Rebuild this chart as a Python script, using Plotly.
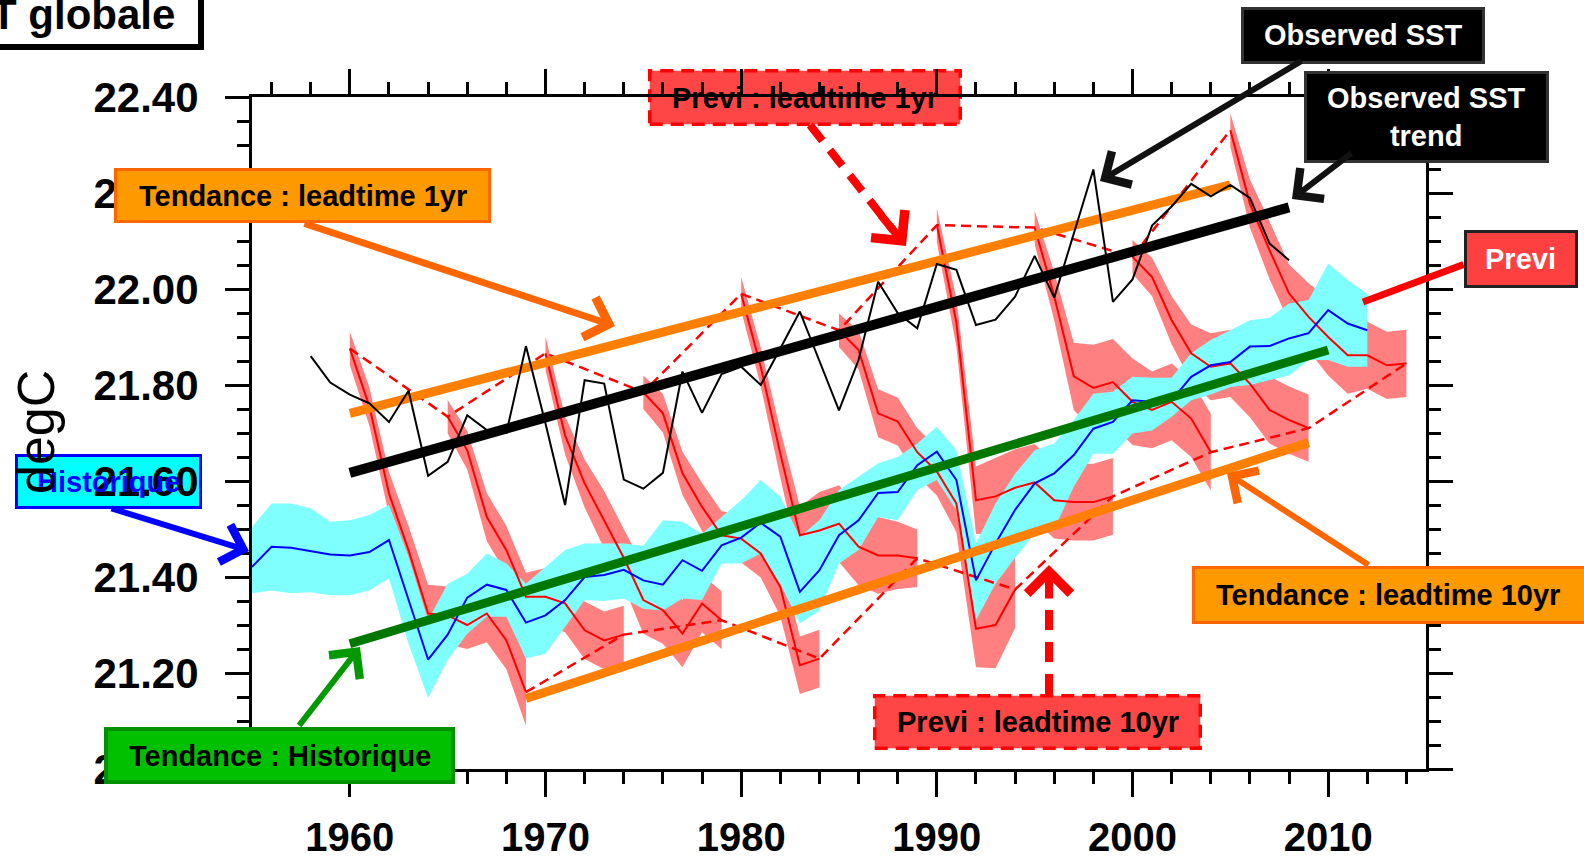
import plotly.graph_objects as go

# ---------------- data ----------------
hist_years = list(range(1955, 2013))
hist_mean = [21.421, 21.463, 21.461, 21.454, 21.447, 21.445, 21.452, 21.477, 21.352, 21.228,
             21.28, 21.357, 21.384, 21.373, 21.305, 21.32, 21.352, 21.40, 21.404, 21.415,
             21.393, 21.384, 21.435, 21.413, 21.466, 21.482, 21.513, 21.484, 21.369, 21.414,
             21.487, 21.518, 21.575, 21.577, 21.633, 21.661, 21.602, 21.393, 21.47, 21.54,
             21.595, 21.616, 21.654, 21.709, 21.723, 21.768, 21.765, 21.768, 21.817, 21.841,
             21.848, 21.88, 21.881, 21.897, 21.908, 21.956, 21.928, 21.914]
hist_hi = [21.504, 21.553, 21.553, 21.543, 21.515, 21.518, 21.529, 21.55, 21.442, 21.31,
           21.386, 21.407, 21.449, 21.428, 21.386, 21.421, 21.456, 21.47, 21.47, 21.47,
           21.465, 21.518, 21.515, 21.49, 21.525, 21.56, 21.602, 21.567, 21.484, 21.518,
           21.581, 21.609, 21.637, 21.65, 21.678, 21.713, 21.664, 21.47, 21.553, 21.615,
           21.664, 21.678, 21.727, 21.782, 21.786, 21.817, 21.815, 21.815, 21.866, 21.894,
           21.914, 21.935, 21.94, 21.97, 21.977, 22.053, 22.019, 21.99]
hist_lo = [21.366, 21.372, 21.366, 21.368, 21.362, 21.362, 21.372, 21.397, 21.261, 21.148,
           21.227, 21.282, 21.317, 21.317, 21.23, 21.24, 21.296, 21.352, 21.35, 21.355,
           21.334, 21.33, 21.355, 21.352, 21.428, 21.428, 21.449, 21.386, 21.303, 21.33,
           21.428, 21.456, 21.525, 21.518, 21.581, 21.602, 21.539, 21.31, 21.386, 21.44,
           21.49, 21.5, 21.588, 21.657, 21.657, 21.699, 21.705, 21.734, 21.768, 21.78,
           21.796, 21.8, 21.81, 21.82, 21.852, 21.852, 21.838, 21.838]

obs_years = list(range(1958, 2009))
obs_sst = [21.86, 21.805, 21.78, 21.762, 21.723, 21.788, 21.611, 21.64, 21.737, 21.706,
           21.70, 21.881, 21.72, 21.55, 21.81, 21.803, 21.603, 21.584, 21.617, 21.828,
           21.742, 21.823, 21.838, 21.80, 21.876, 21.953, 21.85, 21.747, 21.852, 22.015,
           21.95, 21.918, 22.052, 22.04, 21.925, 21.936, 21.984, 22.069, 21.982, 22.115,
           22.249, 21.973, 22.02, 22.132, 22.172, 22.219, 22.193, 22.217, 22.19, 22.095,
           22.06]

previ_starts = [1960, 1965, 1970, 1975, 1980, 1985, 1990, 1995, 2000, 2005]
previ_1960 = [21.876, 21.755, 21.574, 21.456, 21.324, 21.32, 21.30, 21.324, 21.268, 21.16]
previ_1965 = [21.734, 21.664, 21.525, 21.456, 21.359, 21.359, 21.345, 21.289, 21.268, 21.28]
previ_1970 = [21.866, 21.695, 21.595, 21.519, 21.44, 21.352, 21.331, 21.282, 21.345, 21.31]
previ_1975 = [21.785, 21.741, 21.616, 21.546, 21.487, 21.48, 21.449, 21.379, 21.216, 21.23]
previ_1980 = [21.99, 21.838, 21.657, 21.487, 21.497, 21.511, 21.463, 21.445, 21.445, 21.439]
previ_1985 = [21.914, 21.873, 21.741, 21.724, 21.66, 21.62, 21.553, 21.292, 21.30, 21.374]
previ_1990 = [22.133, 21.93, 21.56, 21.568, 21.586, 21.597, 21.56, 21.556, 21.556, 21.568]
previ_1995 = [22.128, 21.985, 21.818, 21.794, 21.806, 21.765, 21.748, 21.765, 21.73, 21.66]
previ_2000 = [22.067, 22.025, 21.935, 21.866, 21.838, 21.845, 21.803, 21.748, 21.727, 21.71]
previ_2005 = [22.331, 22.178, 22.081, 21.991, 21.942, 21.90, 21.862, 21.862, 21.841, 21.845]

spread_1960 = [0.035, 0.04, 0.045, 0.05, 0.06, 0.06, 0.05, 0.06, 0.06, 0.07]
spread_1965 = [0.035, 0.04, 0.05, 0.05, 0.05, 0.06, 0.06, 0.06, 0.06, 0.06]
spread_1970 = [0.035, 0.04, 0.05, 0.06, 0.06, 0.07, 0.07, 0.07, 0.06, 0.06]
spread_1975 = [0.035, 0.04, 0.045, 0.05, 0.05, 0.05, 0.05, 0.06, 0.06, 0.06]
spread_1980 = [0.035, 0.04, 0.05, 0.06, 0.08, 0.08, 0.08, 0.08, 0.07, 0.06]
spread_1985 = [0.035, 0.04, 0.05, 0.05, 0.05, 0.05, 0.06, 0.08, 0.09, 0.08]
spread_1990 = [0.035, 0.05, 0.07, 0.08, 0.08, 0.08, 0.08, 0.08, 0.08, 0.08]
spread_1995 = [0.035, 0.05, 0.07, 0.09, 0.09, 0.09, 0.08, 0.08, 0.08, 0.08]
spread_2000 = [0.035, 0.04, 0.05, 0.06, 0.07, 0.07, 0.07, 0.07, 0.07, 0.07]
spread_2005 = [0.035, 0.05, 0.06, 0.06, 0.07, 0.08, 0.08, 0.07, 0.07, 0.07]

trend_obs_x = [1960, 2008]
trend_obs_y = [21.617, 22.17]
trend_lt1_x = [1960, 2005]
trend_lt1_y = [21.741, 22.217]
trend_lt10_x = [1969, 2009]
trend_lt10_y = [21.147, 21.68]
trend_hist_x = [1960, 2010]
trend_hist_y = [21.261, 21.873]

# ---------------- figure ----------------
W, H = 1584, 858
L, R, T, B = 252, 1426, 97, 769
FONT = "Liberation Sans, Arial, Helvetica, sans-serif"


def px(X):
    return (X - L) / (R - L)


def py(Y):
    return (B - Y) / (B - T)


previ_means = [previ_1960, previ_1965, previ_1970, previ_1975, previ_1980,
               previ_1985, previ_1990, previ_1995, previ_2000, previ_2005]
previ_spreads = [spread_1960, spread_1965, spread_1970, spread_1975, spread_1980,
                 spread_1985, spread_1990, spread_1995, spread_2000, spread_2005]

fig = go.Figure()

# pink forecast spread bands
for start, mean, spr in zip(previ_starts, previ_means, previ_spreads):
    yrs = list(range(start, start + len(mean)))
    upper = [m + s for m, s in zip(mean, spr)]
    lower = [m - s for m, s in zip(mean, spr)]
    fig.add_trace(go.Scatter(x=yrs + yrs[::-1], y=upper + lower[::-1], fill="toself",
                             fillcolor="#FF8080", line=dict(width=0), mode="lines",
                             hoverinfo="skip", showlegend=False))

# cyan historical spread
fig.add_trace(go.Scatter(x=hist_years + hist_years[::-1], y=hist_hi + hist_lo[::-1],
                         fill="toself", fillcolor="#80FFFF", line=dict(width=0),
                         mode="lines", hoverinfo="skip", showlegend=False))

# red forecast lines
for start, mean in zip(previ_starts, previ_means):
    yrs = list(range(start, start + len(mean)))
    fig.add_trace(go.Scatter(x=yrs, y=mean, mode="lines",
                             line=dict(color="#FF0000", width=2), showlegend=False))

# leadtime 1yr / 10yr dashed
lt1_x = previ_starts
lt1_y = [m[0] for m in previ_means]
lt10_x = [s + len(m) - 1 for s, m in zip(previ_starts, previ_means)]
lt10_y = [m[-1] for m in previ_means]
for xs, ys in ((lt1_x, lt1_y), (lt10_x, lt10_y)):
    fig.add_trace(go.Scatter(x=xs, y=ys, mode="lines",
                             line=dict(color="#FF0000", width=2.5, dash="10px,6px"),
                             showlegend=False))

# historical mean (blue)
fig.add_trace(go.Scatter(x=hist_years, y=hist_mean, mode="lines",
                         line=dict(color="#0000FF", width=2), showlegend=False))

# trends
fig.add_trace(go.Scatter(x=trend_hist_x, y=trend_hist_y, mode="lines",
                         line=dict(color="#007800", width=9), showlegend=False))
fig.add_trace(go.Scatter(x=trend_lt10_x, y=trend_lt10_y, mode="lines",
                         line=dict(color="#FF8000", width=9), showlegend=False))
fig.add_trace(go.Scatter(x=trend_lt1_x, y=trend_lt1_y, mode="lines",
                         line=dict(color="#FF8000", width=9), showlegend=False))
fig.add_trace(go.Scatter(x=trend_obs_x, y=trend_obs_y, mode="lines",
                         line=dict(color="#000000", width=10), showlegend=False))

# observed SST (black thin)
fig.add_trace(go.Scatter(x=obs_years, y=obs_sst, mode="lines",
                         line=dict(color="#000000", width=2), showlegend=False))

# ---------------- boxes (shapes) ----------------
shapes = []


def box(l, t, r, b, fill, line, lw, dash="solid", layer="above"):
    shapes.append(dict(type="rect", xref="paper", yref="paper",
                       x0=px(l + lw / 2), x1=px(r - lw / 2),
                       y0=py(b - lw / 2), y1=py(t + lw / 2),
                       fillcolor=fill, line=dict(color=line, width=lw, dash=dash),
                       layer=layer))


box(-60, -30, 204, 50, "#FFFFFF", "#000000", 6)
box(15, 454, 202, 509, "#00FFFF", "#0000FF", 3, layer="below")
box(114, 168, 491, 223, "#FF9900", "#FF6600", 3)
box(104, 727, 455, 784, "#00C000", "#009000", 4)
box(1192, 566, 1590, 624, "#FF9900", "#FF6600", 3)
box(873, 694, 1202, 750, "#FF4646", "#FF0000", 3.5, dash="13px,8px")
box(648, 69, 962, 126, "#FF4646", "#FF0000", 3.5, dash="13px,8px", layer="below")
box(1241, 7, 1485, 64, "#000000", "#333333", 3)
box(1304, 71, 1549, 163, "#000000", "#333333", 3)
box(1464, 230, 1578, 288, "#FF4040", "#222222", 3)


# dashed arrow shafts
def dashed_shaft(x0, y0, x1, y1):
    shapes.append(dict(type="line", xref="paper", yref="paper",
                       x0=px(x0), y0=py(y0), x1=px(x1), y1=py(y1),
                       line=dict(color="#FF0000", width=8, dash="20px,12px"),
                       layer="above"))


dashed_shaft(810, 125, 893, 230)
dashed_shaft(1049, 694, 1049, 582)

fig.update_layout(shapes=shapes)

# ---------------- texts ----------------
ann = []


def label(text, X, Y, color="#000000", size=29, bold=True, anchor="center"):
    ann.append(dict(text=text, xref="paper", yref="paper", x=px(X), y=py(Y),
                    xanchor=anchor, yanchor="middle", showarrow=False,
                    font=dict(family=FONT, size=size, color=color,
                              weight="bold" if bold else "normal")))


label("SST globale", 177, 14, size=42, anchor="right")
label("Historique", 108.5, 481.5, color="#0000FF")
label("Tendance : leadtime 1yr", 302.5, 195.5)
label("Tendance : Historique", 279.5, 755.5)
label("Tendance : leadtime 10yr", 1388, 595)
label("Previ : leadtime 10yr", 1037.5, 722)
label("Previ : leadtime 1yr", 805, 97.5)
label("Observed SST", 1363, 35.5, color="#FFFFFF")
label("Observed SST<br>trend", 1426.5, 117, color="#FFFFFF")
label("Previ", 1521, 259, color="#FFFFFF")
ann.append(dict(text="degC", xref="paper", yref="paper", x=px(36), y=py(432),
                xanchor="center", yanchor="middle", textangle=-90, showarrow=False,
                font=dict(family=FONT, size=52, color="#000000")))


def arrow(tx, ty, hx, hy, color, width, head=4, size=1.25):
    ann.append(dict(text="", xref="paper", yref="paper", x=px(hx), y=py(hy),
                    ax=tx - hx, ay=ty - hy, showarrow=True, arrowhead=head,
                    arrowsize=size, arrowwidth=width, arrowcolor=color,
                    standoff=0, startstandoff=0))


arrow(303, 223, 615, 326, "#FF6600", 7, size=1.15)
arrow(1303, 60, 1100, 181, "#111111", 6)
arrow(1353, 152, 1292, 199, "#111111", 6)
arrow(880, 214, 906, 246, "#FF0000", 8, size=1.05)
arrow(1465, 264, 1363, 302, "#FF0000", 7, head=0)
arrow(110, 508, 249, 551, "#0000FF", 6)
arrow(298, 727, 360, 647, "#009900", 6)
arrow(1370, 566, 1227, 473, "#FF6600", 6)
arrow(1049, 600, 1049, 565, "#FF0000", 8, size=1.05)

fig.update_layout(annotations=ann)

axis_common = dict(showgrid=False, zeroline=False, showline=True, linecolor="#000000",
                   linewidth=3, mirror="allticks", ticks="outside", tickcolor="#000000",
                   tickwidth=2.5, automargin=False)

fig.update_xaxes(range=[1955, 2015], tickmode="linear", tick0=1960, dtick=10, ticklen=25,
                 ticklabelstandoff=6,
                 tickfont=dict(family=FONT, size=40, color="#000000", weight="bold"),
                 minor=dict(tick0=1960, dtick=2, ticklen=12, tickwidth=2.5,
                            tickcolor="#000000", ticks="outside"),
                 **axis_common)
fig.update_yaxes(range=[21.0, 22.4], tickmode="linear", tick0=21.0, dtick=0.2,
                 tickformat=".2f", ticklen=24, ticklabelstandoff=18,
                 tickfont=dict(family=FONT, size=42, color="#000000", weight="bold"),
                 minor=dict(tick0=21.0, dtick=0.05, ticklen=12, tickwidth=2.5,
                            tickcolor="#000000", ticks="outside"),
                 **axis_common)

fig.update_layout(width=W, height=H, margin=dict(l=L, r=W - R, t=T, b=H - B, pad=0),
                  paper_bgcolor="#FFFFFF", plot_bgcolor="#FFFFFF", showlegend=False,
                  font=dict(family=FONT))

fig.write_html("out.html", config={"displayModeBar": False},
               post_script="document.body.style.margin='0px';"
                           "document.body.style.overflow='hidden';")
